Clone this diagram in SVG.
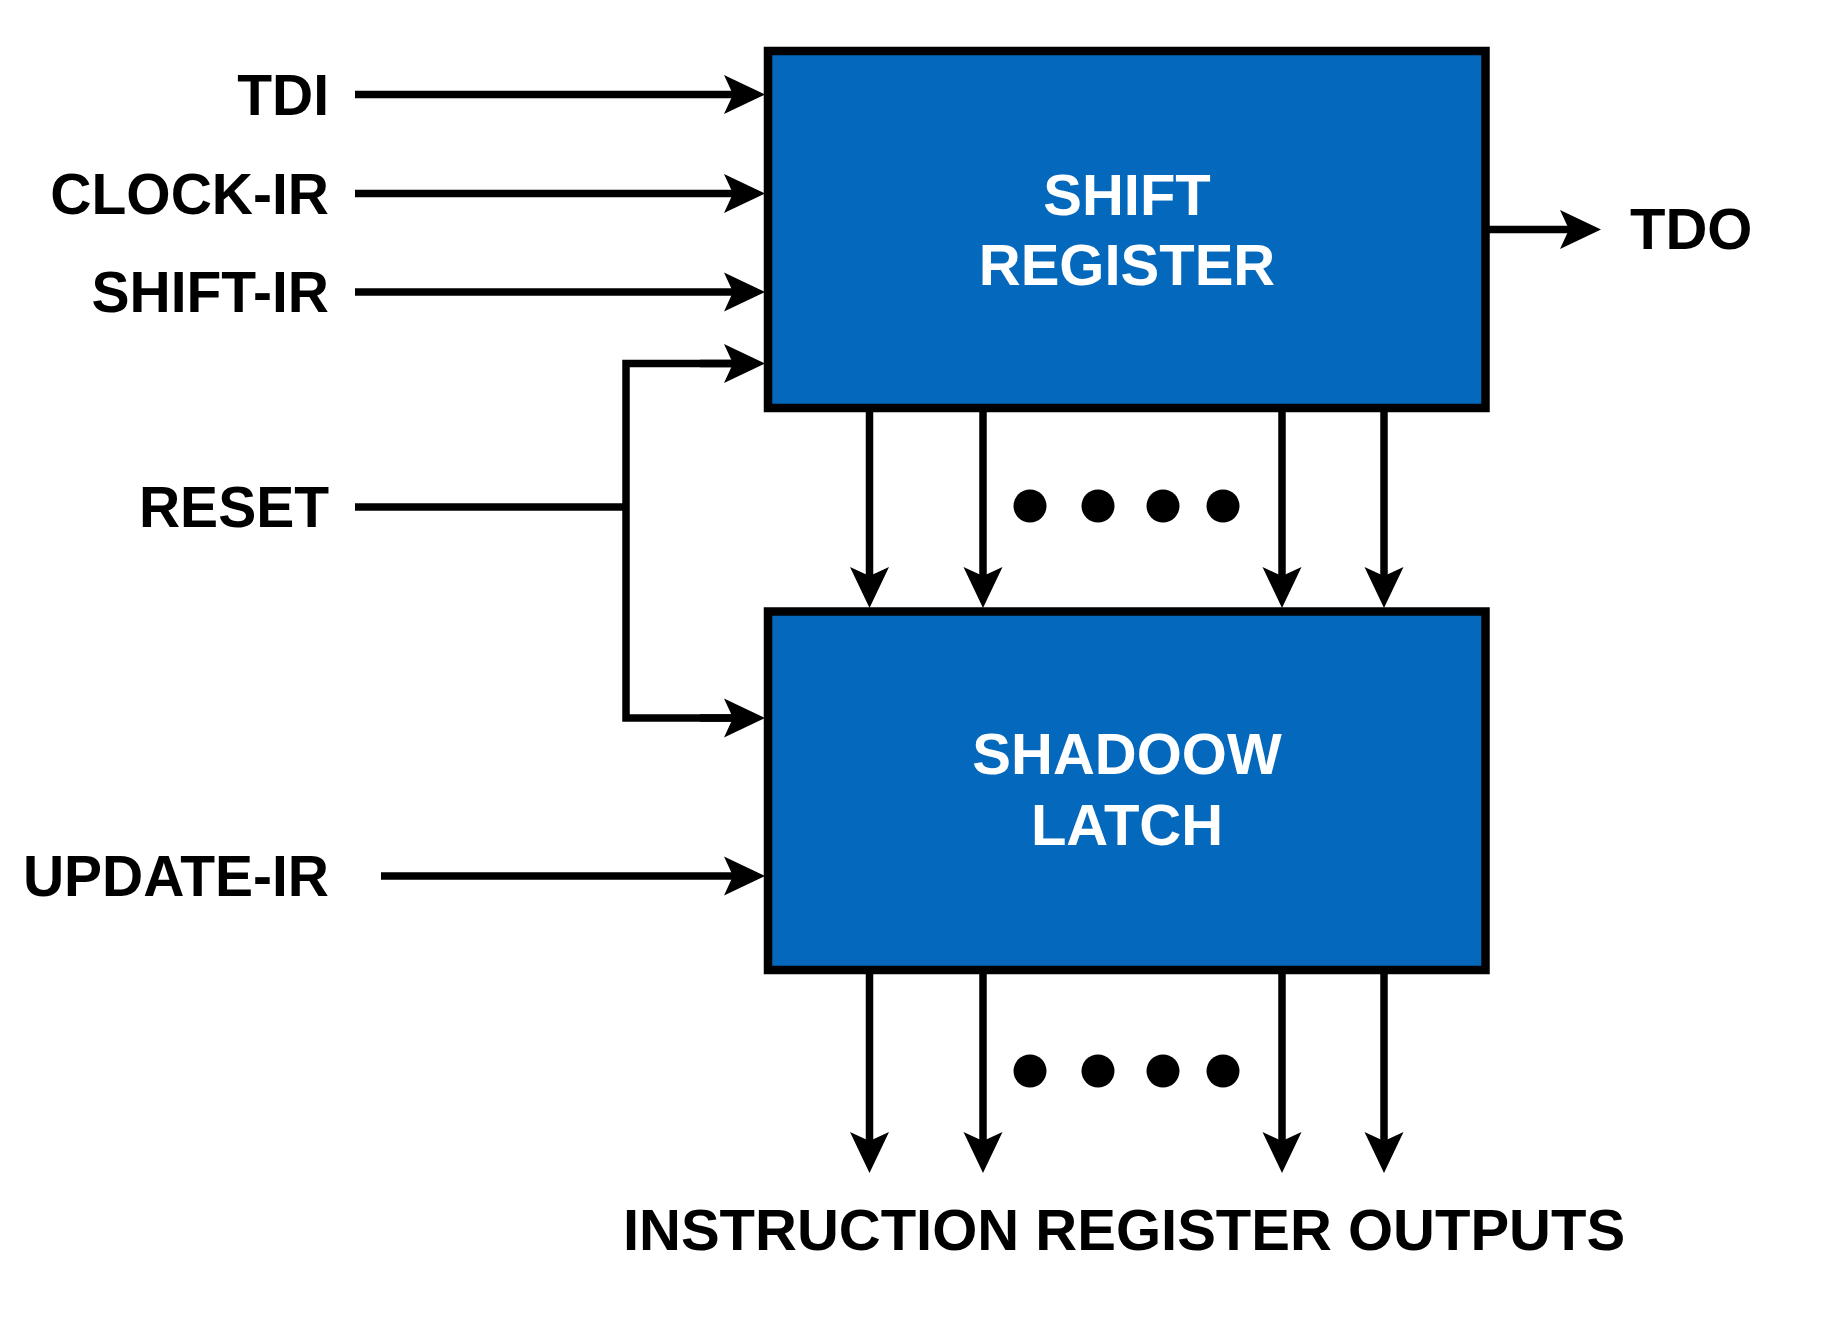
<svg xmlns="http://www.w3.org/2000/svg" width="1824" height="1319" viewBox="0 0 1824 1319">
<style>
.box{fill:#0468BC;stroke:#000;stroke-width:8.5}
.wire{fill:none;stroke:#000;stroke-width:7.5}
.lbl{font-family:"Liberation Sans",Arial,sans-serif;font-weight:bold;font-size:57px;fill:#000}
.big{font-size:58px}
.in{font-family:"Liberation Sans",Arial,sans-serif;font-weight:bold;font-size:58px;fill:#fff;text-anchor:middle}
.dot{fill:#000}
</style>
<defs>
<marker id="ah" markerUnits="userSpaceOnUse" markerWidth="50" markerHeight="50" viewBox="-15 -25 50 50" refX="0" refY="0" orient="auto">
<path d="M30,0 L-11,-19.5 L-2,0 L-11,19.5 Z" fill="#000"/>
</marker>
</defs>
<rect width="1824" height="1319" fill="#fff"/>
<g id="connectors">
<line class="wire" x1="355" y1="94.5" x2="735" y2="94.5" marker-end="url(#ah)"/>
<line class="wire" x1="355" y1="193.5" x2="735" y2="193.5" marker-end="url(#ah)"/>
<line class="wire" x1="355" y1="292" x2="735" y2="292" marker-end="url(#ah)"/>
<line class="wire" x1="355" y1="507" x2="626" y2="507"/>
<polyline class="wire" points="735,363.5 626,363.5 626,718 735,718"/>
<line class="wire" x1="700" y1="363.5" x2="735" y2="363.5" marker-end="url(#ah)"/>
<line class="wire" x1="700" y1="718" x2="735" y2="718" marker-end="url(#ah)"/>
<line class="wire" x1="381" y1="876" x2="735" y2="876" marker-end="url(#ah)"/>
<line class="wire" x1="1486" y1="229.5" x2="1571" y2="229.5" marker-end="url(#ah)"/>
<line class="wire" x1="869.5" y1="408" x2="869.5" y2="578" marker-end="url(#ah)"/>
<line class="wire" x1="983" y1="408" x2="983" y2="578" marker-end="url(#ah)"/>
<line class="wire" x1="1282" y1="408" x2="1282" y2="578" marker-end="url(#ah)"/>
<line class="wire" x1="1384" y1="408" x2="1384" y2="578" marker-end="url(#ah)"/>
<line class="wire" x1="869.5" y1="970" x2="869.5" y2="1143" marker-end="url(#ah)"/>
<line class="wire" x1="983" y1="970" x2="983" y2="1143" marker-end="url(#ah)"/>
<line class="wire" x1="1282" y1="970" x2="1282" y2="1143" marker-end="url(#ah)"/>
<line class="wire" x1="1384" y1="970" x2="1384" y2="1143" marker-end="url(#ah)"/>
</g>
<g id="shift-register">
<rect class="box" x="768" y="51" width="717.5" height="357"/>
<text class="in" x="1127" y="215">SHIFT</text>
<text class="in" x="1127" y="285">REGISTER</text>
</g>
<g id="shadow-latch">
<rect class="box" x="768" y="611.5" width="717.5" height="358.5"/>
<text class="in" x="1127" y="774">SHADOOW</text>
<text class="in" x="1127" y="845">LATCH</text>
</g>
<g id="dots-top">
<circle class="dot" cx="1030" cy="506" r="16.5"/>
<circle class="dot" cx="1098" cy="506" r="16.5"/>
<circle class="dot" cx="1163" cy="506" r="16.5"/>
<circle class="dot" cx="1223" cy="506" r="16.5"/>
</g>
<g id="dots-bottom">
<circle class="dot" cx="1030" cy="1071" r="16.5"/>
<circle class="dot" cx="1098" cy="1071" r="16.5"/>
<circle class="dot" cx="1163" cy="1071" r="16.5"/>
<circle class="dot" cx="1223" cy="1071" r="16.5"/>
</g>
<g id="labels">
<text class="lbl" x="329" y="115" text-anchor="end">TDI</text>
<text class="lbl" x="329" y="214" text-anchor="end">CLOCK-IR</text>
<text class="lbl" x="329" y="312" text-anchor="end">SHIFT-IR</text>
<text class="lbl" x="329" y="527" text-anchor="end">RESET</text>
<text class="lbl" x="329" y="896" text-anchor="end">UPDATE-IR</text>
<text class="lbl big" x="1630" y="249">TDO</text>
<text class="lbl big" x="1124" y="1250" text-anchor="middle">INSTRUCTION REGISTER OUTPUTS</text>
</g>
</svg>
